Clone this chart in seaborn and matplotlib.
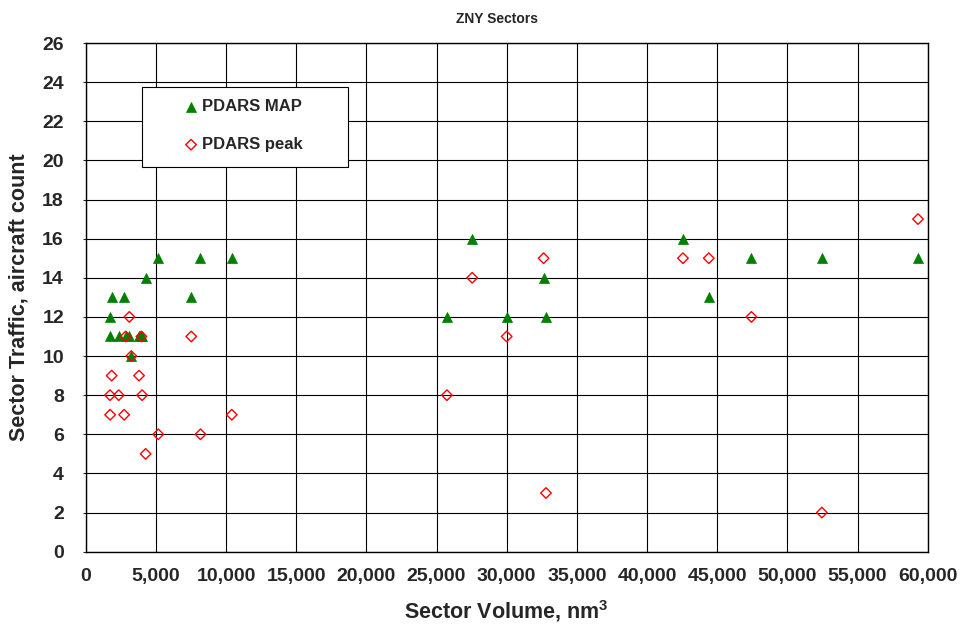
import numpy as np
import pandas as pd
import matplotlib
matplotlib.use("Agg")
import matplotlib.pyplot as plt
from matplotlib.patches import Rectangle
from matplotlib.ticker import FuncFormatter
import seaborn as sns

# Sector volume (nm^3) and traffic counts per sector
volume = [1730, 1740, 1850, 2350, 2740, 2850, 3110, 3250, 3800, 3970, 4020, 4270,
          5170, 7520, 8180, 10410,
          25740, 27540, 30000, 32630, 32800,
          42560, 44400, 47440, 52460, 59310]
pdars_map = [12, 11, 13, 11, 13, 11, 11, 10, 11, 11, 11, 14,
             15, 13, 15, 15,
             12, 16, 12, 14, 12,
             16, 13, 15, 15, 15]
pdars_peak = [8, 7, 9, 8, 7, 11, 12, 10, 9, 11, 8, 5,
              6, 11, 6, 7,
              8, 14, 11, 15, 3,
              15, 15, 12, 2, 17]

x_ticks = list(range(0, 60001, 5000))
y_ticks = list(range(0, 27, 2))

df = pd.DataFrame({"volume": volume, "PDARS MAP": pdars_map, "PDARS peak": pdars_peak})

sns.set_style("white")
plt.rcParams["font.family"] = ["Liberation Sans", "DejaVu Sans"]
plt.rcParams["font.weight"] = "bold"
plt.rcParams["mathtext.fontset"] = "custom"
plt.rcParams["mathtext.bf"] = "Liberation Sans:bold"
plt.rcParams["mathtext.rm"] = "Liberation Sans:bold"
plt.rcParams["mathtext.default"] = "bf"

W, H = 960, 624
L, R, T, B = 85.7, 927.7, 43.0, 551.7
aw, ah = R - L, B - T

fig = plt.figure(figsize=(W / 100, H / 100), dpi=100)
ax = fig.add_axes([L / W, 1 - B / H, aw / W, ah / H])

sns.scatterplot(data=df, x="volume", y="PDARS MAP", marker="^", s=52,
                color="#008000", edgecolor="#008000", linewidth=0.5,
                label="PDARS MAP", ax=ax, zorder=4)
sns.scatterplot(data=df, x="volume", y="PDARS peak", marker="D", s=29,
                facecolor="none", edgecolor="#ff0000", linewidth=1.0,
                label="PDARS peak", ax=ax, zorder=4)

ax.set_xlim(0, 60000)
ax.set_ylim(0, 26)
ax.set_xticks(x_ticks)
ax.set_yticks(y_ticks)
ax.xaxis.set_major_formatter(FuncFormatter(lambda v, p: f"{int(v):,}"))
ax.set_axisbelow(True)
ax.grid(True, color="black", linewidth=0.8)

for sp in ax.spines.values():
    sp.set_visible(True)
    sp.set_color("black")
    sp.set_linewidth(1.0)

ax.tick_params(axis="x", length=0, pad=12, labelsize=14)
ax.tick_params(axis="y", length=2.2, width=0.8, direction="out", pad=13.5,
               labelsize=14, left=True)
for lab in ax.get_xticklabels() + ax.get_yticklabels():
    lab.set_fontweight("bold")

ax.set_xlabel(r"Sector Volume, nm$^{3}$", fontsize=15.5, fontweight="bold", va="baseline")
ax.xaxis.set_label_coords(0.5, (B - 618) / ah)
ax.set_ylabel("Sector Traffic, aircraft count", fontsize=15.5, fontweight="bold", va="center")
ax.yaxis.set_label_coords((19 - L) / aw, 0.5)

ax.set_title("ZNY Sectors", fontsize=10, fontweight="bold", x=(497 - L) / aw, pad=14.4)

# Legend box drawn as a plain white rectangle behind the entries
box = Rectangle(((141.7 - L) / aw, (B - 167.3) / ah), 206.6 / aw, 80.6 / ah,
                transform=ax.transAxes, facecolor="white", edgecolor="black",
                linewidth=0.8, zorder=3)
ax.add_patch(box)

handles, labels = ax.get_legend_handles_labels()
leg = ax.legend(handles, labels, loc="upper left",
                bbox_to_anchor=((182.7 - L) / aw, (B - 99.2) / ah),
                frameon=False, borderpad=0, borderaxespad=0,
                handlelength=1.0, handletextpad=0.14, labelspacing=1.37,
                scatterpoints=1, prop={"size": 12, "weight": "bold"})
leg.set_zorder(5)

fig.savefig("out.png", dpi=100)
